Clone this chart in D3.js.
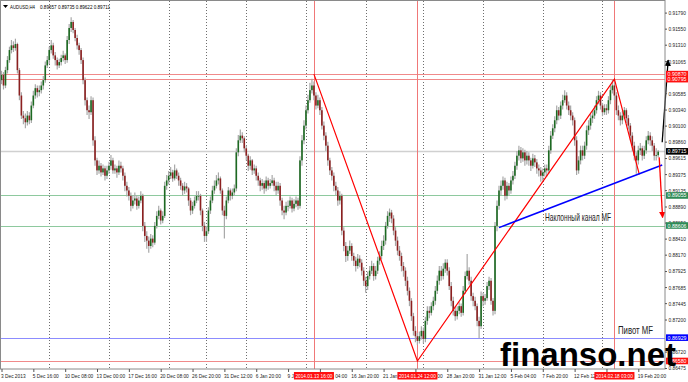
<!DOCTYPE html>
<html><head><meta charset="utf-8">
<script src="https://cdn.jsdelivr.net/npm/d3@7"></script>
<style>body{margin:0;background:#fff} svg{display:block}</style>
</head><body>
<svg id="c" width="688" height="382"></svg>
<script>
// ---- DATA (AUDUSD H4) ----
const firstOpen = 0.9078;
const closes = [
.9086,.9070,.9093,.9108,.9123,.9130,.9126,.9132,.9093,.9055,
.9025,.9021,.9015,.9025,.9018,.9040,.9055,.9066,.9060,.9063,
.9070,.9078,.9100,.9108,.9123,.9130,.9115,.9108,.9100,.9105,
.9111,.9115,.9108,.9138,.9156,.9165,.9153,.9141,.9130,.9123,
.9108,.9078,.9048,.9033,.9030,.9048,.8988,.8958,.8943,.8950,
.8940,.8946,.8935,.8943,.8950,.8958,.8943,.8946,.8940,.8950,
.8946,.8935,.8920,.8913,.8905,.8890,.8898,.8901,.8890,.8898,
.8905,.8860,.8845,.8838,.8830,.8841,.8835,.8860,.8875,.8883,
.8868,.8875,.8920,.8928,.8935,.8940,.8931,.8943,.8935,.8928,
.8920,.8913,.8919,.8916,.8898,.8883,.8890,.8898,.8905,.8905,
.8883,.8860,.8845,.8852,.8883,.8898,.8913,.8920,.8928,.8931,
.8913,.8883,.8875,.8898,.8913,.8905,.8910,.8916,.8970,.8988,
.8995,.8991,.8976,.8965,.8950,.8958,.8943,.8946,.8935,.8928,
.8920,.8924,.8916,.8928,.8920,.8924,.8928,.8920,.8913,.8920,
.8898,.8883,.8880,.8890,.8890,.8898,.8886,.8893,.8898,.8890,
.8958,.8988,.9010,.9033,.9048,.9063,.9070,.9055,.9040,.9048,
.9033,.9010,.8995,.8980,.8958,.8943,.8935,.8920,.8913,.8898,
.8905,.8853,.8830,.8815,.8823,.8830,.8815,.8808,.8800,.8811,
.8805,.8793,.8778,.8770,.8785,.8793,.8800,.8785,.8793,.8808,
.8815,.8830,.8838,.8860,.8875,.8880,.8871,.8853,.8838,.8823,
.8815,.8800,.8793,.8778,.8763,.8748,.8725,.8703,.8695,.8688,
.8695,.8703,.8691,.8718,.8733,.8730,.8740,.8748,.8763,.8778,
.8793,.8785,.8796,.8805,.8793,.8770,.8748,.8733,.8725,.8733,
.8740,.8730,.8763,.8785,.8793,.8778,.8755,.8748,.8740,.8718,
.8710,.8755,.8748,.8752,.8770,.8778,.8748,.8733,.8860,.8890,
.8913,.8920,.8928,.8905,.8920,.8913,.8928,.8935,.8950,.8965,
.8973,.8961,.8970,.8958,.8965,.8958,.8950,.8961,.8955,.8946,
.8943,.8935,.8940,.8946,.8943,.8973,.8995,.9006,.9018,.9033,
.9025,.9040,.9048,.9055,.9040,.9033,.9025,.9018,.8988,.8943,
.8958,.8973,.8965,.8980,.9003,.9010,.9021,.9025,.9033,.9048,
.9055,.9040,.9030,.9036,.9033,.9048,.9063,.9070,.9055,.9033,
.9025,.9018,.9025,.9033,.9021,.9010,.8995,.8980,.8965,.8958,
.8973,.8976,.8965,.8973,.8988,.8995,.8988,.8980,.8965,.89657,
.89711];
const highs = [
.9092,.9090,.9098,.9114,.9128,.9138,.9136,.9140,.9134,.9096,
.9060,.9032,.9028,.9032,.9030,.9046,.9062,.9072,.9070,.9070,
.9076,.9084,.9106,.9114,.9128,.9138,.9134,.9120,.9112,.9110,
.9116,.9122,.9118,.9144,.9162,.9172,.9168,.9156,.9146,.9134,
.9126,.9112,.9082,.9052,.9040,.9054,.9052,.8994,.8962,.8958,
.8954,.8952,.8950,.8950,.8956,.8966,.8962,.8952,.8950,.8958,
.8956,.8950,.8940,.8926,.8918,.8910,.8906,.8910,.8906,.8904,
.8912,.8908,.8866,.8852,.8844,.8848,.8846,.8866,.8882,.8890,
.8886,.8882,.8926,.8936,.8942,.8948,.8944,.8952,.8946,.8940,
.8932,.8924,.8926,.8924,.8918,.8902,.8896,.8904,.8912,.8912,
.8908,.8886,.8866,.8860,.8888,.8904,.8920,.8928,.8936,.8940,
.8934,.8916,.8890,.8904,.8918,.8916,.8916,.8922,.8976,.8996,
.9004,.9000,.8994,.8980,.8968,.8964,.8960,.8952,.8950,.8940,
.8932,.8930,.8928,.8934,.8932,.8930,.8936,.8932,.8926,.8926,
.8924,.8902,.8890,.8896,.8898,.8904,.8902,.8900,.8904,.8902,
.8964,.8996,.9018,.9040,.9056,.9074,.9080,.9076,.9060,.9056,
.9052,.9038,.9016,.9000,.8986,.8962,.8948,.8940,.8926,.8918,
.8912,.8908,.8858,.8836,.8830,.8838,.8834,.8820,.8814,.8818,
.8816,.8810,.8798,.8784,.8792,.8800,.8808,.8804,.8800,.8814,
.8822,.8838,.8846,.8866,.8882,.8886,.8884,.8876,.8858,.8844,
.8830,.8820,.8806,.8798,.8784,.8768,.8752,.8730,.8710,.8700,
.8702,.8710,.8708,.8724,.8740,.8740,.8746,.8754,.8770,.8786,
.8800,.8800,.8804,.8810,.8810,.8798,.8776,.8754,.8740,.8740,
.8746,.8744,.8770,.8792,.8818,.8798,.8784,.8760,.8754,.8744,
.8724,.8762,.8760,.8758,.8776,.8784,.8782,.8752,.8866,.8898,
.8920,.8928,.8934,.8932,.8926,.8924,.8934,.8942,.8956,.8972,
.8980,.8978,.8976,.8974,.8972,.8970,.8962,.8968,.8966,.8960,
.8952,.8948,.8946,.8952,.8952,.8980,.9002,.9012,.9024,.9040,
.9038,.9046,.9056,.9063,.9060,.9046,.9040,.9030,.9022,.8994,
.8964,.8980,.8980,.8986,.9010,.9018,.9028,.9032,.9040,.9054,
.9062,.9060,.9044,.9042,.9042,.9054,.9070,.9079,.9076,.9060,
.9040,.9030,.9032,.9038,.9036,.9026,.9014,.9000,.8986,.8970,
.8980,.8984,.8980,.8980,.8994,.9002,.9000,.8994,.8984,.8976,
.89735];
const lows = [
.9072,.9064,.9066,.9088,.9104,.9118,.9120,.9122,.9088,.9048,
.9020,.9012,.9006,.9010,.9012,.9014,.9036,.9050,.9052,.9054,
.9058,.9064,.9074,.9096,.9102,.9118,.9110,.9100,.9094,.9096,
.9100,.9106,.9102,.9104,.9132,.9150,.9148,.9136,.9124,.9116,
.9102,.9072,.9040,.9026,.9020,.9026,.8980,.8950,.8936,.8938,
.8934,.8936,.8928,.8930,.8938,.8944,.8938,.8938,.8932,.8936,
.8940,.8928,.8912,.8904,.8898,.8882,.8886,.8892,.8884,.8886,
.8894,.8852,.8836,.8826,.8820,.8826,.8828,.8832,.8856,.8870,
.8862,.8864,.8872,.8914,.8922,.8930,.8926,.8928,.8930,.8920,
.8914,.8906,.8908,.8910,.8890,.8876,.8878,.8886,.8894,.8898,
.8876,.8852,.8836,.8836,.8848,.8878,.8894,.8908,.8916,.8922,
.8908,.8876,.8841,.8870,.8894,.8898,.8900,.8906,.8912,.8964,
.8984,.8984,.8970,.8958,.8942,.8944,.8936,.8938,.8928,.8920,
.8912,.8914,.8908,.8912,.8914,.8916,.8920,.8912,.8906,.8908,
.8890,.8876,.8870,.8876,.8882,.8886,.8880,.8882,.8888,.8884,
.8886,.8950,.8982,.9004,.9028,.9044,.9058,.9048,.9034,.9036,
.9026,.9004,.8988,.8972,.8950,.8936,.8928,.8912,.8906,.8890,
.8892,.8846,.8822,.8806,.8808,.8818,.8808,.8800,.8792,.8796,
.8798,.8786,.8770,.8760,.8764,.8780,.8788,.8778,.8780,.8788,
.8802,.8810,.8824,.8832,.8856,.8866,.8864,.8846,.8830,.8816,
.8808,.8792,.8784,.8770,.8756,.8740,.8718,.8696,.8686,.8682,
.8684,.8690,.8684,.8686,.8712,.8722,.8726,.8734,.8742,.8758,
.8772,.8778,.8780,.8790,.8786,.8764,.8740,.8726,.8718,.8720,
.8728,.8724,.8726,.8758,.8780,.8772,.8748,.8740,.8734,.8710,
.8692,.8706,.8740,.8742,.8748,.8764,.8742,.8726,.8728,.8852,
.8884,.8906,.8914,.8898,.8900,.8906,.8908,.8922,.8930,.8944,
.8958,.8954,.8956,.8950,.8952,.8950,.8942,.8946,.8948,.8938,
.8934,.8926,.8928,.8934,.8934,.8938,.8968,.8990,.9000,.9012,
.9018,.9020,.9034,.9044,.9034,.9026,.9018,.9010,.8980,.8936,
.8938,.8952,.8958,.8960,.8974,.8996,.9004,.9014,.9020,.9028,
.9042,.9034,.9024,.9026,.9026,.9028,.9042,.9058,.9048,.9026,
.9018,.9010,.9012,.9020,.9014,.9004,.8988,.8972,.8958,.8938,
.8952,.8966,.8958,.8960,.8968,.8982,.8980,.8972,.8958,.8958,
.89622];

const timeLabels = ["3 Dec 2013","5 Dec 16:00","10 Dec 08:00","13 Dec 00:00","17 Dec 16:00",
  "20 Dec 08:00","26 Dec 20:00","31 Dec 12:00","6 Jan 20:00","9 Jan 12:00","14 Jan 04:00",
  "16 Jan 20:00","21 Jan 12:00","24 Jan 04:00","28 Jan 20:00","31 Jan 12:00","5 Feb 04:00",
  "7 Feb 20:00","12 Feb 12:00","17 Feb 04:00","19 Feb 20:00"];
const labelStep = 16;
const priceTicks = [0.91790,0.91550,0.91310,0.91065,0.90585,0.90340,0.90100,0.89860,0.89615,
  0.89375,0.89135,0.88890,0.88650,0.88410,0.88170,0.87925,0.87685,0.87445,0.87200,0.86720,0.86475];
const weekSeparators = [24,54,84,103,123,153,183,212,242,272,302];
const markerBars = [157,209,308];
const markerLabels = ["2014.01.13 16:00","2014.01.24 12:00","2014.02.18 03:00"];
const levelPrices = [0.90870,0.90795,0.89715,0.89055,0.88606,0.86929,0.86580];
const levelKinds  = ["red","red","price","green","green","blue","red"];
const zigzagBars   = [157,209,308,320.5];
const zigzagPrices = [0.90870,0.86580,0.90795,0.89370];
const channelBars = [250,332];
const channelPrices = [0.88575,0.89510];
const downArrowBars = [330.5,332.2];
const downArrowPrices = [0.89625,0.88725];
const upArrowBars = [332,335];
const upArrowPrices = [0.89850,0.91080];
const symbolText = "AUDUSD,H4";

// ---- LAYOUT ----
const W = 688, H = 382;
const plotL = 1, plotR = 665, plotT = 1, plotB = 369;
const svg = d3.select("#c");
const x = d3.scaleLinear().domain([0, 1]).range([1.5, 1.5 + 1.99]);
const y = d3.scaleLinear().domain([0.86475, 0.91790]).range([368, 12.6]);
const font = "'Liberation Sans', Arial, sans-serif";
const SQ = 0.8; // horizontal squeeze of small labels (screenshot was scaled)
function squeeze(sel, f) {
  sel.each(function () {
    const L = this.getComputedTextLength();
    d3.select(this).attr("textLength", L * f).attr("lengthAdjust", "spacingAndGlyphs");
  });
}

svg.append("rect").attr("width", W).attr("height", H).attr("fill", "#fff");

// week separators
svg.append("g").selectAll("line").data(weekSeparators).join("line")
  .attr("x1", d => Math.round(x(d)) + 0.5).attr("x2", d => Math.round(x(d)) + 0.5)
  .attr("y1", plotT).attr("y2", plotB)
  .attr("stroke", "#6e6e6e").attr("stroke-width", 1).attr("stroke-dasharray", "1,2");

// horizontal levels
const levelColor = {red: "#f08a8a", price: "#d0d0d0", green: "#8ec99e", blue: "#8c8cff"};
const boxColor = {red: "#ff1010", price: "#000000", green: "#2e8b57", blue: "#0000ff"};
const levels = levelPrices.map((p, i) => ({p, k: levelKinds[i]}));
svg.append("g").selectAll("line").data(levels).join("line")
  .attr("x1", plotL).attr("x2", plotR)
  .attr("y1", d => Math.round(y(d.p)) + 0.5).attr("y2", d => Math.round(y(d.p)) + 0.5)
  .attr("stroke", d => levelColor[d.k]).attr("stroke-width", d => d.k === "price" ? 1.5 : 1.2);

// vertical marker lines
svg.append("g").selectAll("line").data(markerBars).join("line")
  .attr("x1", d => Math.round(x(d)) + 0.5).attr("x2", d => Math.round(x(d)) + 0.5)
  .attr("y1", plotT).attr("y2", plotB)
  .attr("stroke", "#f07878").attr("stroke-width", 1);

// candles
const bars = closes.map((c, i) => ({i, o: i === 0 ? firstOpen : closes[i - 1], h: highs[i], l: lows[i], c}));
const gC = svg.append("g");
gC.selectAll("line").data(bars).join("line")
  .attr("x1", d => x(d.i)).attr("x2", d => x(d.i))
  .attr("y1", d => y(d.h)).attr("y2", d => y(d.l))
  .attr("stroke", "#a8a8a8").attr("stroke-width", 1.2);
gC.selectAll("rect").data(bars).join("rect")
  .attr("x", d => x(d.i) - 0.8).attr("width", 1.6)
  .attr("y", d => y(Math.max(d.o, d.c)))
  .attr("height", d => Math.max(0.8, Math.abs(y(d.o) - y(d.c))))
  .attr("fill", d => d.c >= d.o ? "#1d6a22" : "#8c2020");

// zigzag
const line = d3.line().x(d => x(d[0])).y(d => y(d[1]));
svg.append("path").datum(zigzagBars.map((b, i) => [b, zigzagPrices[i]]))
  .attr("d", line).attr("fill", "none").attr("stroke", "#ff0000").attr("stroke-width", 1.2);
// channel
svg.append("path").datum(channelBars.map((b, i) => [b, channelPrices[i]]))
  .attr("d", line).attr("fill", "none").attr("stroke", "#0000ff").attr("stroke-width", 1.5);

// arrows
const defs = svg.append("defs");
[["ahR", "#ff0000"], ["ahK", "#000000"]].forEach(([id, col]) => {
  defs.append("marker").attr("id", id).attr("viewBox", "0 0 10 10").attr("refX", 9).attr("refY", 5)
    .attr("markerWidth", 5).attr("markerHeight", 6).attr("orient", "auto-start-reverse")
    .append("path").attr("d", "M0,0 L10,5 L0,10 z").attr("fill", col);
});
svg.append("path").datum(downArrowBars.map((b, i) => [b, downArrowPrices[i]]))
  .attr("d", line).attr("fill", "none").attr("stroke", "#ff0000").attr("stroke-width", 1.3)
  .attr("marker-end", "url(#ahR)");
svg.append("path").datum(upArrowBars.map((b, i) => [b, upArrowPrices[i]]))
  .attr("d", line).attr("fill", "none").attr("stroke", "#000000").attr("stroke-width", 1.3)
  .attr("marker-end", "url(#ahK)");

// annotations
svg.append("text").attr("x", 545).attr("y", 221).text("Наклонный канал MF")
  .attr("font-family", font).attr("font-size", 10.5).attr("fill", "#222")
  .attr("textLength", 66).attr("lengthAdjust", "spacingAndGlyphs");
svg.append("text").attr("x", 618).attr("y", 334).text("Пивот MF")
  .attr("font-family", font).attr("font-size", 10.5).attr("fill", "#222")
  .attr("textLength", 35).attr("lengthAdjust", "spacingAndGlyphs");

// frame
svg.append("rect").attr("x", plotL - 0.5).attr("y", plotT - 0.5)
  .attr("width", plotR - plotL + 0.5).attr("height", plotB - plotT + 0.5)
  .attr("fill", "none").attr("stroke", "#8a8a8a").attr("stroke-width", 1);

// right price axis
const yAxis = d3.axisRight(y).tickValues(priceTicks).tickFormat(d3.format(".5f")).tickSize(2).tickPadding(1.5);
const ga = svg.append("g").attr("transform", `translate(${plotR},0)`).call(yAxis);
ga.select(".domain").remove();
ga.selectAll("text").attr("font-family", font).attr("font-size", 6).attr("fill", "#222");
squeeze(ga.selectAll("text"), SQ);
ga.selectAll("line").attr("stroke", "#555");

// level boxes
const gb = svg.append("g");
levels.forEach(d => {
  const yy = y(d.p);
  gb.append("rect").attr("x", plotR + 1).attr("y", yy - 3.3).attr("width", 22).attr("height", 6.6)
    .attr("fill", boxColor[d.k]);
  gb.append("text").attr("x", plotR + 2.5).attr("y", yy + 2).text(d3.format(".5f")(d.p))
    .attr("text-anchor", "start")
    .attr("font-family", font).attr("font-size", 5.8).attr("fill", "#fff")
    .attr("textLength", 19).attr("lengthAdjust", "spacingAndGlyphs");
});

// bottom time axis
const tickIdx = timeLabels.map((t, k) => k * labelStep);
const xAxis = d3.axisBottom(x).tickValues(tickIdx).tickFormat((d, k) => timeLabels[k]).tickSize(3).tickPadding(1.5);
const gx = svg.append("g").attr("transform", `translate(0,${plotB})`).call(xAxis);
gx.select(".domain").remove();
gx.selectAll("text").attr("text-anchor", "start").attr("dx", "-1").attr("font-family", font)
  .attr("font-size", 6).attr("fill", "#222");
squeeze(gx.selectAll("text"), SQ);
gx.selectAll("line").attr("stroke", "#555");

// marker date boxes
const gm = svg.append("g").attr("transform", `translate(0,${plotB})`);
markerBars.forEach((b, k) => {
  const xx = x(b);
  gm.append("rect").attr("x", xx - 20).attr("y", 3).attr("width", 40).attr("height", 7.5).attr("fill", "#ff1010");
  gm.append("text").attr("x", xx - 18.5).attr("y", 8.8).text(markerLabels[k])
    .attr("text-anchor", "start")
    .attr("font-family", font).attr("font-size", 5.8).attr("fill", "#fff")
    .attr("textLength", 37).attr("lengthAdjust", "spacingAndGlyphs");
});

// header
svg.append("path").attr("d", "M3,5 L8,5 L5.5,8 z").attr("fill", "#000");
const last = bars[bars.length - 1];
svg.append("text").attr("x", 10).attr("y", 8.5).text(symbolText)
  .attr("font-family", font).attr("font-size", 5.8).attr("fill", "#000")
  .attr("textLength", 25).attr("lengthAdjust", "spacingAndGlyphs");
svg.append("text").attr("x", 40).attr("y", 8.5)
  .text([last.o, last.h, last.l, last.c].map(d3.format(".5f")).join(" "))
  .attr("font-family", font).attr("font-size", 5.8).attr("fill", "#000")
  .attr("textLength", 70).attr("lengthAdjust", "spacingAndGlyphs");

// watermark
svg.append("text").attr("x", 500).attr("y", 366).text("finanso.net")
  .attr("font-family", font).attr("font-weight", "bold").attr("font-size", 33).attr("fill", "#000");
</script>
</body></html>
